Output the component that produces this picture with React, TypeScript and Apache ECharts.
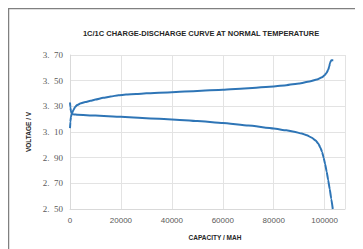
import React, { useEffect, useRef } from "react";
import * as echarts from "echarts";

const titleText = "1C/1C CHARGE-DISCHARGE CURVE AT NORMAL TEMPERATURE";
const xName = "CAPACITY / MAH";
const yName = "VOLTAGE / V";

const chargeCapacity = [0, 150, 400, 800, 1300, 2000, 2800, 4000, 6000, 8000, 10000, 13000, 16000, 19000, 22000, 26000, 30000, 40000, 50000, 60000, 70000, 80000, 85000, 90000, 94000, 97000, 99000, 100000, 100800, 101400, 101800, 102100, 102400, 102700, 103400];
const chargeVoltage = [3.13, 3.18, 3.22, 3.245, 3.27, 3.295, 3.31, 3.322, 3.333, 3.343, 3.353, 3.366, 3.377, 3.386, 3.392, 3.397, 3.401, 3.41, 3.42, 3.43, 3.441, 3.455, 3.465, 3.478, 3.493, 3.51, 3.527, 3.543, 3.562, 3.585, 3.61, 3.635, 3.652, 3.66, 3.66];

const dischargeCapacity = [0, 150, 400, 800, 1500, 3000, 10000, 20000, 30000, 40000, 50000, 60000, 70000, 80000, 85000, 88000, 91000, 93000, 95000, 96500, 97500, 98300, 99000, 99600, 100200, 100800, 101400, 102000, 102600, 103200];
const dischargeVoltage = [3.33, 3.29, 3.26, 3.242, 3.237, 3.234, 3.228, 3.218, 3.208, 3.198, 3.185, 3.17, 3.15, 3.127, 3.113, 3.102, 3.088, 3.075, 3.055, 3.033, 3.01, 2.98, 2.945, 2.9, 2.85, 2.79, 2.725, 2.655, 2.58, 2.5];

export default function App() {
  const ref = useRef<HTMLDivElement>(null);
  useEffect(() => {
    if (!ref.current) return;
    const chart = echarts.init(ref.current, null, { renderer: "svg" });
    const line = (xs: number[], ys: number[]) => xs.map((x, i) => [x, ys[i]]);
    chart.setOption({
      animation: false,
      backgroundColor: "#ffffff",
      title: {
        text: titleText,
        left: 188,
        top: 16,
        textAlign: "center",
        textStyle: { fontFamily: "Liberation Sans", fontWeight: "bold", fontSize: 7.5, color: "#262626" },
      },
      graphic: [
        {
          type: "rect",
          shape: { x: 0.5, y: 0.5, width: 400, height: 300 },
          style: { fill: "none", stroke: "#808080", lineWidth: 1.5 },
          silent: true,
        },
      ],
      grid: { left: 62, right: 18, top: 47, bottom: 40 },
      xAxis: {
        type: "value",
        min: 0,
        max: 108000,
        interval: 20000,
        name: xName,
        nameLocation: "middle",
        nameGap: 25,
        nameTextStyle: { fontFamily: "Liberation Sans", fontWeight: "bold", fontSize: 6.5, color: "#262626", padding: [0, 0, 0, 15] },
        axisLine: { show: true, lineStyle: { color: "#d9d9d9" } },
        axisTick: { show: false },
        splitLine: { show: true, lineStyle: { color: "#e3e3e3" } },
        axisLabel: {
          showMaxLabel: false,
          margin: 7,
          fontFamily: "Liberation Sans",
          fontSize: 8,
          color: "#595959",
          formatter: (v: number) => String(v),
        },
      },
      yAxis: {
        type: "value",
        min: 2.5,
        max: 3.7,
        interval: 0.2,
        name: yName,
        nameLocation: "middle",
        nameGap: 36,
        nameRotate: 90,
        nameTextStyle: { fontFamily: "Liberation Sans", fontWeight: "bold", fontSize: 6.5, color: "#262626" },
        axisLine: { show: true, lineStyle: { color: "#d9d9d9" } },
        axisTick: { show: false },
        splitLine: { show: true, lineStyle: { color: "#e3e3e3" } },
        axisLabel: {
          margin: 7,
          fontFamily: "Liberation Serif",
          fontSize: 9,
          color: "#595959",
          formatter: (v: number) => {
            const s = v.toFixed(2);
            return s.slice(0, 2) + "\u2002" + s.slice(2);
          },
        },
      },
      series: [
        {
          name: "Charge",
          type: "line",
          data: line(chargeCapacity, chargeVoltage),
          showSymbol: false,
          smooth: 0.15,
          smoothMonotone: "x",
          lineStyle: { color: "#2E75B6", width: 2 },
        },
        {
          name: "Discharge",
          type: "line",
          data: line(dischargeCapacity, dischargeVoltage),
          showSymbol: false,
          smooth: 0.15,
          smoothMonotone: "x",
          lineStyle: { color: "#2E75B6", width: 2 },
        },
      ],
    });
    return () => chart.dispose();
  }, []);
  return <div ref={ref} style={{ width: 355, height: 241 }} />;
}
